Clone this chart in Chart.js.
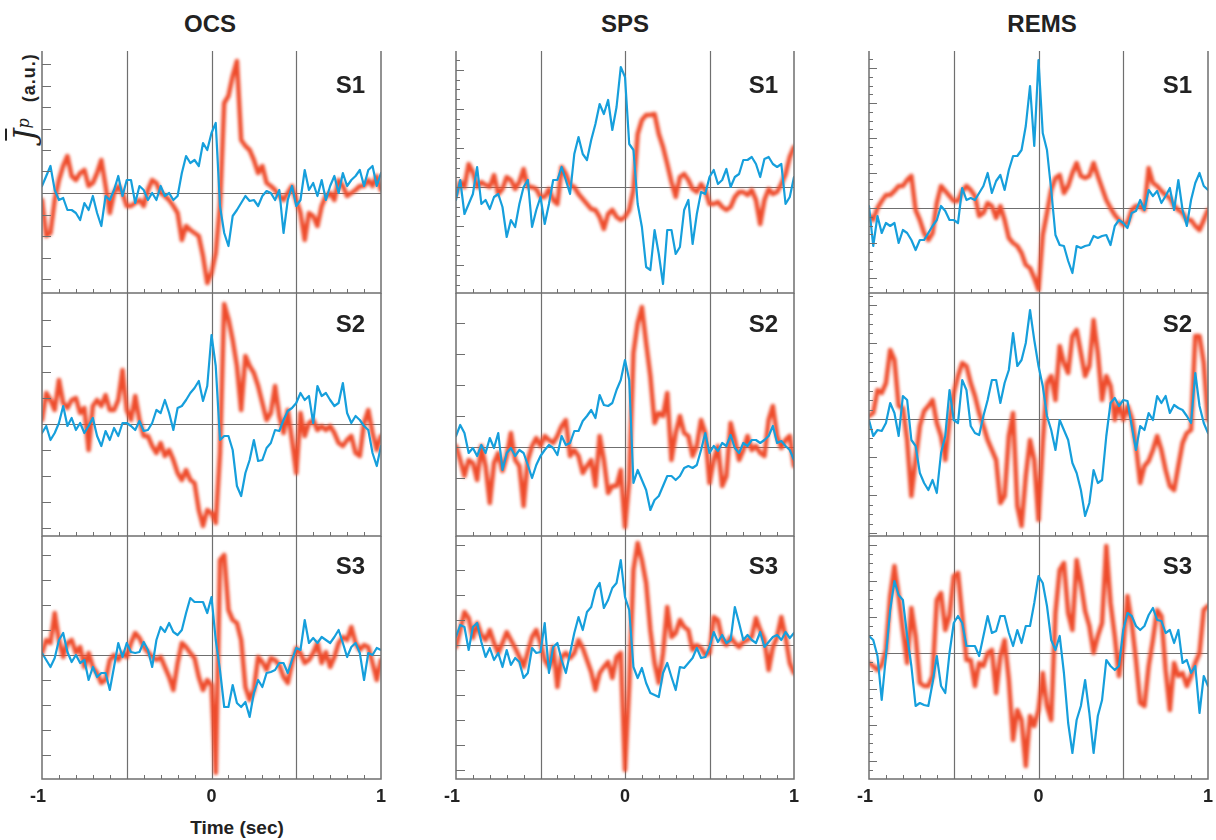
<!DOCTYPE html>
<html>
<head>
<meta charset="utf-8">
<script src="https://cdn.jsdelivr.net/npm/chart.js@4.4.1/dist/chart.umd.min.js"></script>
<style>
  body { margin: 0; background: #fff; }
  #page { position: relative; width: 1216px; height: 840px; overflow: hidden; font-family: "Liberation Sans", Arial, sans-serif; color: #222; }
  #page canvas { position: absolute; }
  .title { position: absolute; top: 12px; font-size: 24px; font-weight: bold; line-height: 1; transform: translateX(-50%); }
  .slab { position: absolute; font-size: 24px; font-weight: bold; line-height: 1; }
  .xt { position: absolute; top: 787px; font-size: 18px; font-weight: bold; line-height: 1; transform: translateX(-50%); }
  #xlabel { position: absolute; left: 237px; top: 818px; font-size: 19px; font-weight: bold; line-height: 1; transform: translateX(-50%); }
  #ylab { position: absolute; left: 25px; top: 97px; transform: translate(-50%, -50%) rotate(-90deg); white-space: nowrap; line-height: 1; }
  #ylab .ov { font-family: "DejaVu Serif", "Liberation Serif", serif; font-style: italic; font-size: 30px; text-decoration: overline; text-decoration-thickness: 1.5px; }
  #ylab sup { font-family: "DejaVu Serif", "Liberation Serif", serif; font-style: italic; font-size: 16px; }
  #ylab .au { font-size: 18px; font-weight: bold; letter-spacing: 1px; margin-left: 16px; }
</style>
</head>
<body>
<div id="page">
  <div class="title" style="left:210px">OCS</div>
  <div class="title" style="left:625px">SPS</div>
  <div class="title" style="left:1042px">REMS</div>
  <div id="ylab"><span class="ov">J</span><sup>p</sup><span class="au">(a.u.)</span></div>
  <div id="xlabel">Time (sec)</div>
</div>
<script>
// Current density traces, sampled every 0.025 s from -1 to 1 (81 values each)
const ocsS1Red = [-7,-43,-40,-7,13,27,37,17,13,20, 23,7,10,20,33,7,-20,0,7,0, -13,-13,-10,-7,-13,3,13,10,0,-3, -7,-13,-20,-47,-33,-37,-40,-43,-63,-90, -80,-60,-13,90,97,117,132,53,47,43, 33,20,27,10,7,3,-3,-7,0,7, -7,-20,-47,-20,-23,-33,-13,-3,0,-7, 13,7,-3,0,3,7,7,13,7,17, 3];
const ocsS1Blue = [7,17,27,3,-7,-5,-17,-17,-20,-27, -10,-17,-3,-20,-33,-3,-7,3,17,-3, 13,13,-10,7,3,-7,0,-7,7,-3, 0,-7,-3,20,37,30,33,27,50,43, 60,70,-13,-40,-53,-23,-17,-10,-3,-8, -7,-13,-3,2,0,-7,3,-40,-7,7, -13,-7,23,3,10,-3,13,-7,7,17, 0,20,7,13,17,23,7,23,27,7, 20];
const ocsS2Red = [4,31,24,14,44,21,16,24,26,11, 16,-26,18,24,18,29,14,14,24,54, 14,4,28,4,-12,-12,-22,-29,-19,-32, -26,-36,-49,-56,-46,-56,-59,-86,-102,-86, -89,-99,-29,120,105,84,58,14,68,58, 51,38,21,4,11,38,8,-9,14,-16, -49,11,-12,1,4,-6,-2,-6,-2,-9, -19,-22,-16,-12,-29,-32,1,14,-9,-26, -12];
const ocsS2Blue = [-9,-2,-16,-9,1,18,-2,6,-6,1, -9,-2,6,-12,-22,-7,-16,-4,-12,1, 1,-2,-6,3,-7,-6,1,14,11,24, 11,-6,16,18,24,31,36,43,23,38, 89,58,-16,-12,-12,-26,-62,-72,-49,-36, -16,-37,-36,-24,-19,-6,-7,4,13,16, 21,31,24,28,1,38,28,31,24,18, 21,41,11,1,8,4,-2,-6,-29,-42, -22];
const ocsS3Red = [2,15,12,42,15,-2,12,15,2,8, -12,2,-12,-18,-28,-25,-5,0,-5,2, -2,12,22,17,8,3,-2,-5,-2,-12, -22,-35,-8,12,8,2,-3,-22,-35,-25, -30,-118,95,100,45,35,32,15,-32,-45, -35,-2,-7,-15,-3,-5,-10,-22,-28,-8, 7,2,-8,-5,2,12,-8,3,-12,-2, 12,18,15,28,12,5,10,8,-8,-25, -5];
const ocsS3Blue = [2,-5,-12,-3,15,22,3,-7,0,-8, -5,-25,-12,-22,-18,-18,-35,-12,12,-2, 12,3,2,3,13,5,-12,15,28,23, 32,23,20,25,42,57,53,53,53,42, 58,15,-15,-52,-52,-30,-48,-52,-47,-62, -38,-25,-32,-18,-17,-15,-8,-8,-18,-5, 7,5,35,12,17,12,18,15,12,18, 25,12,-2,8,12,2,-25,2,0,7, 5];

const spsS1Red = [-7,5,0,23,15,0,5,2,0,12, -7,-2,10,7,-2,5,18,0,0,-2, -10,-10,-2,-13,-17,20,13,2,0,-7, -12,-17,-22,-23,-30,-42,-27,-23,-30,-33, -30,-23,-3,53,67,72,72,73,53,40, 23,5,-10,10,13,7,-2,-5,3,-3, -17,-17,-15,-20,-23,-20,-10,-5,-5,-8, -3,-13,-37,-13,-2,-7,-5,3,13,30, 40];
const spsS1Blue = [-13,7,-27,-17,-7,20,-17,-13,-22,-10, -7,-20,-50,-33,-40,-17,0,7,-40,-23, -10,-37,-17,7,7,20,7,-7,33,50, 33,27,47,63,83,73,87,57,80,120, 110,43,37,-17,-40,-80,-83,-43,-67,-97, -43,-43,-67,-60,-23,-13,-57,-27,-5,-7, 10,17,3,7,18,0,10,13,27,27, 30,23,10,28,30,23,20,23,-17,-10, 10];
const spsS2Red = [1,-13,-29,-13,-16,-33,1,-19,-56,-16, -6,-24,-9,14,-13,-19,-59,-13,1,9, 1,11,7,4,11,21,27,-9,-3,-9, -26,-19,-13,-39,11,-13,-46,-39,-39,-23, -80,-33,94,124,140,104,71,24,34,31, 54,-13,14,31,14,11,-9,1,27,14, -36,-13,1,-39,-29,24,7,-13,-3,11, -3,1,-6,-9,27,41,11,-1,7,11, -19];
const spsS2Blue = [11,22,14,-6,-1,-9,2,-6,9,-1, 14,-23,-6,-1,-9,-3,-6,-18,-31,-18, -9,-3,2,-1,-8,11,2,4,16,16, 26,31,37,29,52,42,41,44,57,67, 87,67,-36,-23,-33,-43,-63,-53,-49,-39, -29,-29,-33,-29,-21,-19,-21,-18,-3,14, -6,1,-4,4,1,12,-1,-6,4,1, 7,7,4,7,11,21,4,6,1,-3, -13];
const spsS3Red = [-2,15,33,27,7,22,10,5,15,2, -8,2,13,5,-3,-12,-22,-7,8,15, 2,-15,-22,-2,-42,-12,-8,-13,-8,5, -3,-15,-27,-45,-28,-22,-17,-33,-12,-8, -125,-40,75,102,85,62,15,-18,-38,-8, 38,8,12,25,18,15,-5,0,-3,-10, -8,28,25,5,0,8,2,-2,3,5, 8,27,15,5,-25,-2,8,28,8,-18, -28];
const spsS3Blue = [8,20,18,-5,18,22,3,-12,-3,-15, -8,-22,-5,-20,-13,-17,-33,-28,-3,-8, -7,22,-28,-2,2,-15,-28,-8,12,28, 15,33,38,55,62,37,45,57,62,85, 48,35,-22,-33,-23,-38,-48,-50,-52,-28, -18,-32,-45,-22,-23,-18,-13,-3,-13,-12, -2,13,3,10,2,5,38,22,5,10, 5,2,13,-2,3,8,10,5,13,7, 12];

const remsS1Red = [-8,-12,0,7,13,13,17,22,22,28, 32,-2,-12,-25,-32,-25,5,22,17,12, 7,7,17,22,18,12,-8,-5,5,2, -10,2,-12,-30,-35,-38,-45,-57,-60,-70, -82,-27,-5,18,30,33,15,22,35,45, 32,30,32,45,32,20,8,0,-7,-12, -17,-15,-2,2,2,-2,40,25,22,17, 13,10,2,-2,-5,-12,-12,-18,-22,-12, -2];
const remsS1Blue = [2,-38,-8,-25,-15,-18,-15,-35,-22,-25, -32,-42,-32,-32,-25,-18,-12,2,-3,-12, -12,-15,20,8,10,8,15,22,35,15, 27,33,18,38,52,52,58,82,122,62, 148,75,58,18,-27,-37,-38,-53,-65,-38, -40,-38,-37,-28,-30,-28,-27,-37,-18,-12, -15,-20,-5,-3,8,-2,18,12,17,5, 12,20,-2,28,-2,-18,8,25,35,22, 18];
const remsS2Red = [3,6,29,26,36,69,59,13,11,-21, -77,-41,-7,8,13,19,-4,-17,-41,-1, 26,43,56,53,36,23,6,-7,-21,-31, -41,-84,-77,-17,6,-87,-107,-57,-21,-41, -101,-24,36,43,19,73,56,46,83,89, 66,43,53,99,66,19,43,33,-1,16, -1,13,1,-27,-64,-47,-42,-31,-17,-31, -51,-67,-71,-47,-24,-14,-11,83,83,56, -1];
const remsS2Blue = [-1,-17,-11,-12,-4,16,6,-17,23,19, -21,-27,-54,-64,-71,-61,-74,-34,-17,29, -1,-4,39,29,-7,-14,-16,3,19,39, 39,16,36,49,86,53,59,76,109,79, 53,33,3,-11,-31,-1,-11,-21,-44,-54, -71,-97,-84,-51,-64,-61,-17,16,21,13, 19,18,-7,-31,-7,-11,6,-1,23,16, 23,6,14,11,9,3,-4,46,13,-4, -14];
const remsS3Red = [-10,-13,-17,-12,3,57,87,57,23,-10, 45,17,-30,-33,-33,-23,53,60,23,37, 77,80,37,-7,-7,-33,-10,-13,0,3, -40,-3,13,-27,-87,-57,-67,-113,-63,-73, -57,-20,-53,-67,40,83,90,40,23,93, 70,42,27,0,17,30,107,50,17,-23, 7,57,30,-7,-50,-53,-13,13,43,37, -17,-57,-10,-23,-20,-33,-23,-10,0,43, 47];
const remsS3Blue = [17,13,-3,-47,-3,43,72,58,53,17, -13,-53,-50,-52,-53,-30,-3,-33,-40,0, 30,37,30,7,7,7,-3,17,37,20, 22,37,37,20,7,23,10,27,27,50, 77,70,47,13,3,17,-20,-70,-100,-67, -53,-27,-60,-100,-63,-47,-7,-13,-17,-13, 23,40,37,27,23,27,38,45,33,32, 20,23,10,23,-10,-7,-20,-13,-60,-23, -33];

// panels in reading order: row S1, S2, S3 x column OCS, SPS, REMS
const panelLabels = ['S1', 'S1', 'S1', 'S2', 'S2', 'S2', 'S3', 'S3', 'S3'];
const redSeries = [ocsS1Red, spsS1Red, remsS1Red, ocsS2Red, spsS2Red, remsS2Red, ocsS3Red, spsS3Red, remsS3Red];
const blueSeries = [ocsS1Blue, spsS1Blue, remsS1Blue, ocsS2Blue, spsS2Blue, remsS2Blue, ocsS3Blue, spsS3Blue, remsS3Blue];
const yMaxes = [142, 136, 157, 131, 154, 126, 119, 109, 117];
const yMins = [-100, -106, -85, -112, -89, -117, -124, -134, -126];
const tickMajor = [21.5, 39, 35, 26, 31, 38, 25, 25, 36];
const tickSubdiv = [1, 4, 4, 1, 1, 4, 1, 1, 4];
const xTickLabels = ['-1', '0', '1'];
const tStep = 0.025;

const colLeft = [42, 456, 869];
const colWidth = [339, 338, 339];
const rowTop = [51, 293, 536];
const rowHeight = [242, 243, 243];
const pad = 6;

const lineGray = '#6f6f6f';
const page = document.getElementById('page');

function toPoints(vals) {
    return vals.map((v, i) => ({ x: -1 + i * tStep, y: v }));
}

function framePlugin(p) {
    return {
        id: 'frame' + p,
        beforeDatasetsDraw(chart) {
            const { ctx, chartArea: a, scales: { x, y } } = chart;
            ctx.save();
            ctx.strokeStyle = lineGray;
            ctx.lineWidth = 1.2;
            ctx.beginPath();
            [-0.5, 0, 0.5].forEach(t => {
                const px = Math.round(x.getPixelForValue(t)) + 0.5;
                ctx.moveTo(px, a.top);
                ctx.lineTo(px, a.bottom);
            });
            const zy = Math.round(y.getPixelForValue(0)) + 0.5;
            ctx.moveTo(a.left, zy);
            ctx.lineTo(a.right, zy);
            ctx.stroke();
            ctx.restore();
        },
        // soften the red trace like the original's blurred rendering
        beforeDatasetDraw(chart, args) {
            if (args.index === 1) chart.ctx.filter = 'blur(1.4px)';
        },
        afterDatasetDraw(chart, args) {
            if (args.index === 1) chart.ctx.filter = 'none';
        },
        afterDatasetsDraw(chart) {
            const { ctx, chartArea: a, scales: { x, y } } = chart;
            ctx.save();
            ctx.strokeStyle = lineGray;
            ctx.lineWidth = 1.5;
            ctx.beginPath();
            ctx.moveTo(a.left, a.top);
            ctx.lineTo(a.left, a.bottom);
            ctx.lineTo(a.right, a.bottom);
            ctx.lineTo(a.right, a.top);
            ctx.stroke();

            ctx.lineWidth = 1;
            ctx.beginPath();
            for (let k = -9; k <= 9; k++) {
                if (k % 5 === 0) continue;
                const px = Math.round(x.getPixelForValue(k / 10)) + 0.5;
                ctx.moveTo(px, a.bottom);
                ctx.lineTo(px, a.bottom - 4);
            }
            const step = tickMajor[p] / tickSubdiv[p];
            const j0 = Math.ceil(yMins[p] / step), j1 = Math.floor(yMaxes[p] / step);
            for (let j = j0; j <= j1; j++) {
                const py = Math.round(y.getPixelForValue(j * step)) + 0.5;
                if (py < a.top + 2 || py > a.bottom - 2) continue;
                let len = 4;
                if (tickSubdiv[p] === 1) len = 9;
                else if (j % tickSubdiv[p] === 0) len = 8;
                ctx.moveTo(a.left, py);
                ctx.lineTo(a.left + len, py);
            }
            ctx.stroke();
            ctx.restore();
        }
    };
}

for (let p = 0; p < 9; p++) {
    const col = p % 3, row = Math.floor(p / 3);
    const w = colWidth[col], h = rowHeight[row];
    const canvas = document.createElement('canvas');
    canvas.width = w + 2 * pad;
    canvas.height = h + 2 * pad;
    canvas.style.left = (colLeft[col] - pad) + 'px';
    canvas.style.top = (rowTop[row] - pad) + 'px';
    page.appendChild(canvas);

    new Chart(canvas.getContext('2d'), {
        type: 'line',
        data: {
            datasets: [
                { data: toPoints(blueSeries[p]), borderColor: '#169fdc', borderWidth: 2.2, order: 0, clip: 0 },
                { data: toPoints(redSeries[p]), borderColor: 'rgb(238,76,44)', borderWidth: 4.5, order: 1, clip: 0 }
            ]
        },
        options: {
            responsive: false,
            animation: false,
            events: [],
            layout: { padding: pad },
            elements: { point: { radius: 0 }, line: { tension: 0, borderJoinStyle: 'round', borderCapStyle: 'round' } },
            plugins: { legend: { display: false }, tooltip: { enabled: false } },
            scales: {
                x: { type: 'linear', min: -1, max: 1, display: false },
                y: { min: yMins[p], max: yMaxes[p], display: false }
            }
        },
        plugins: [framePlugin(p)]
    });

    const lab = document.createElement('div');
    lab.className = 'slab';
    lab.textContent = panelLabels[p];
    lab.style.left = (colLeft[col] + w - 16) + 'px';
    lab.style.transform = 'translateX(-100%)';
    lab.style.top = (rowTop[row] + [22, 19, 18][row]) + 'px';
    page.appendChild(lab);
}

// time tick labels under the bottom row
for (let col = 0; col < 3; col++) {
    const xs = [colLeft[col] - 4, colLeft[col] + colWidth[col] / 2, colLeft[col] + colWidth[col]];
    xTickLabels.forEach((txt, i) => {
        const d = document.createElement('div');
        d.className = 'xt';
        d.textContent = txt;
        d.style.left = xs[i] + 'px';
        page.appendChild(d);
    });
}
</script>
</body>
</html>
